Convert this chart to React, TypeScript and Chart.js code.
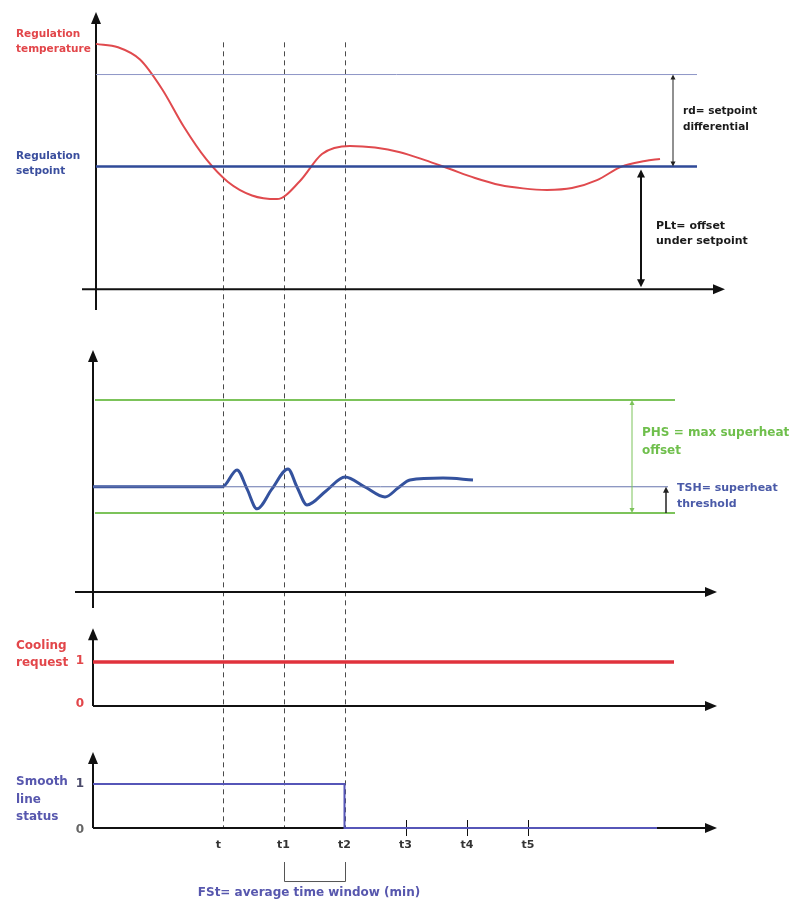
import React, { useEffect, useRef } from 'react';
import { Chart, registerables } from 'chart.js';

Chart.register(...registerables);

// Time axis (shared by all four panels)
const TIME_MARKS = [25.9, 38.1, 50.3, 62.5, 74.8, 87.0];
const TIME_LABELS = ['t', 't1', 't2', 't3', 't4', 't5'];

// Panel 1: regulation temperature
const TEMP_TIME = [0.6, 5, 9.4, 13.8, 18.2, 22.6, 27, 31.8, 36.8, 41.4, 45.8, 51.4, 56.4, 61.4, 66.4, 71.4, 76.4, 81.4, 86, 90.8, 95.8, 100.8, 105.6, 110.4, 113.4];
const TEMP_VALUES = [8.0, 7.89, 7.49, 6.53, 5.29, 4.25, 3.5, 3.06, 2.94, 3.53, 4.41, 4.67, 4.62, 4.47, 4.21, 3.92, 3.63, 3.4, 3.29, 3.24, 3.3, 3.56, 3.99, 4.18, 4.25];
const SETPOINT = 4;
const SETPOINT_DIFF = 3; // rd
const REF_LINE_SPAN = [0.6, 120.8];

// Panel 2: superheat
const SH_TIME = [0, 25.9, 28.8, 30.8, 32.8, 35.8, 39.0, 40.8, 42.8, 46.6, 50.4, 54.4, 58.4, 61.0, 63.4, 70.0, 76.0];
const SH_VALUES = [4.0, 4.0, 4.64, 3.92, 3.16, 3.92, 4.68, 3.99, 3.31, 3.84, 4.37, 3.99, 3.61, 3.95, 4.26, 4.33, 4.26];
const SH_BAND_LOW = 3;
const SH_BAND_HIGH = 7.3;
const SH_THRESHOLD = 4;
const SH_BAND_SPAN = [0.4, 116.4];
const SH_THRESHOLD_SPAN = [0, 115];

// Panel 3: cooling request
const COOLING_TIME = [0, 116.2];
const COOLING_VALUES = [1, 1];

// Panel 4: smooth line status
const SMOOTH_TIME = [0, 50.3, 50.3, 112.8];
const SMOOTH_VALUES = [1, 1, 0, 0];

const FONT = '"DejaVu Sans", sans-serif';
const RED_TEXT = '#e2464a';
const BLUE_TEXT = '#3a4e9e';
const VIOLET_TEXT = '#5757ae';
const GREEN_TEXT = '#6fbf4c';

const pts = (xs: number[], ys: number[]) => xs.map((x, i) => ({ x, y: ys[i] }));
const flat = (span: number[], v: number) => [{ x: span[0], y: v }, { x: span[1], y: v }];

function head(ctx: CanvasRenderingContext2D, x: number, y: number, dx: number, dy: number, len: number, half: number) {
  ctx.beginPath();
  ctx.moveTo(x, y);
  ctx.lineTo(x - dx * len - dy * half, y - dy * len + dx * half);
  ctx.lineTo(x - dx * len + dy * half, y - dy * len - dx * half);
  ctx.closePath();
  ctx.fill();
}

function line(ctx: CanvasRenderingContext2D, x1: number, y1: number, x2: number, y2: number) {
  ctx.beginPath();
  ctx.moveTo(x1, y1);
  ctx.lineTo(x2, y2);
  ctx.stroke();
}

function vArrow(ctx: CanvasRenderingContext2D, x: number, yTop: number, yBot: number, color: string, width: number, len: number, half: number, top: boolean, bottom: boolean) {
  ctx.save();
  ctx.strokeStyle = color;
  ctx.fillStyle = color;
  ctx.lineWidth = width;
  line(ctx, x, yTop + (top ? len - 1 : 0), x, yBot - (bottom ? len - 1 : 0));
  if (top) head(ctx, x, yTop, 0, -1, len, half);
  if (bottom) head(ctx, x, yBot, 0, 1, len, half);
  ctx.restore();
}

function text(ctx: CanvasRenderingContext2D, lines: string[], x: number, y: number, step: number, color: string, size = 11, align: CanvasTextAlign = 'left') {
  ctx.save();
  ctx.fillStyle = color;
  ctx.font = `bold ${size}px ${FONT}`;
  ctx.textAlign = align;
  ctx.textBaseline = 'middle';
  lines.forEach((s, i) => ctx.fillText(s, x, y + i * step));
  ctx.restore();
}

const diagramPlugin = {
  id: 'diagram',
  beforeDatasetsDraw(chart: any) {
    const { ctx } = chart;
    const { x, y1, y2, y3, y4 } = chart.scales;
    const px = (v: number) => x.getPixelForValue(v);

    // dashed time markers through all panels
    ctx.save();
    ctx.strokeStyle = '#4a4a4a';
    ctx.lineWidth = 1;
    ctx.setLineDash([5, 4]);
    TIME_MARKS.slice(0, 3).forEach((t) => {
      line(ctx, Math.round(px(t)) + 0.5, y1.getPixelForValue(8.05), Math.round(px(t)) + 0.5, y4.getPixelForValue(0));
    });
    ctx.restore();

    // axes with arrow heads
    ctx.save();
    ctx.strokeStyle = '#111';
    ctx.fillStyle = '#111';
    ctx.lineWidth = 2;
    const axes = [
      { ys: y1, ax: 0.6, top: 9.04, bottom: -0.67, left: -2.2, right: 126.4 },
      { ys: y2, ax: 0, top: 9.2, bottom: -0.61, left: -3.6, right: 124.8 },
      { ys: y3, ax: 0, top: 1.77, bottom: 0, left: 0, right: 124.8 },
      { ys: y4, ax: 0, top: 1.73, bottom: 0, left: 0, right: 124.8 },
    ];
    axes.forEach((a) => {
      const ax = px(a.ax);
      const yTop = a.ys.getPixelForValue(a.top);
      const y0 = a.ys.getPixelForValue(0);
      line(ctx, ax, yTop + 10, ax, a.ys.getPixelForValue(a.bottom));
      head(ctx, ax, yTop, 0, -1, 12, 5);
      line(ctx, px(a.left), y0, px(a.right) - 10, y0);
      head(ctx, px(a.right), y0, 1, 0, 12, 5);
    });
    // small ticks on the time axis
    const yb = y4.getPixelForValue(0);
    ctx.lineWidth = 1;
    TIME_MARKS.slice(3).forEach((t) => line(ctx, Math.round(px(t)) + 0.5, yb - 8, Math.round(px(t)) + 0.5, yb + 8));
    ctx.restore();
  },
  afterDatasetsDraw(chart: any) {
    const { ctx } = chart;
    const { x, y1, y2, y3, y4 } = chart.scales;
    const px = (v: number) => x.getPixelForValue(v);

    // panel 1 labels and dimension arrows
    const ySet = y1.getPixelForValue(SETPOINT);
    const yDiff = y1.getPixelForValue(SETPOINT + SETPOINT_DIFF);
    const yBase1 = y1.getPixelForValue(0);
    text(ctx, ['Regulation', 'temperature'], 16, y1.getPixelForValue(TEMP_VALUES[0]) - 10, 15, RED_TEXT, 10.5);
    text(ctx, ['Regulation', 'setpoint'], 16, ySet - 10, 15, BLUE_TEXT, 10.5);
    const xRd = px(116);
    vArrow(ctx, xRd, yDiff, ySet, '#222', 1, 5, 2.5, true, true);
    text(ctx, ['rd= setpoint', 'differential'], xRd + 10, (yDiff + ySet) / 2 - 9, 16, '#1a1a1a', 10.5);
    const xPl = px(109.6);
    vArrow(ctx, xPl, ySet + 3, yBase1 - 2, '#111', 2, 8, 4, true, true);
    text(ctx, ['PLt= offset', 'under setpoint'], xPl + 15, 226, 15, '#1a1a1a', 11);

    // panel 2 labels
    const yHi = y2.getPixelForValue(SH_BAND_HIGH);
    const yLo = y2.getPixelForValue(SH_BAND_LOW);
    const yTh = y2.getPixelForValue(SH_THRESHOLD);
    const xPhs = px(107.8);
    vArrow(ctx, xPhs, yHi, yLo, '#7cc35a', 1, 5, 2.5, true, true);
    text(ctx, ['PHS = max superheat', 'offset'], xPhs + 10, yHi + 33, 18, GREEN_TEXT, 12);
    const xTsh = px(114.6);
    vArrow(ctx, xTsh, yTh, yLo, '#222', 1.5, 6, 3, true, false);
    text(ctx, ['TSH= superheat', 'threshold'], xTsh + 11, yTh + 1, 16, '#4a5aa8', 11);

    // panel 3 labels
    const c1 = y3.getPixelForValue(1);
    const c0 = y3.getPixelForValue(0);
    text(ctx, ['Cooling', 'request'], 16, c1 - 16, 17, RED_TEXT, 12);
    text(ctx, ['1'], 80, c1 - 1, 0, RED_TEXT, 12, 'center');
    text(ctx, ['0'], 80, c0 - 2, 0, RED_TEXT, 12, 'center');

    // panel 4 labels
    const s1 = y4.getPixelForValue(1);
    const s0 = y4.getPixelForValue(0);
    text(ctx, ['Smooth', 'line', 'status'], 16, s1 - 2, 17.5, VIOLET_TEXT, 12);
    text(ctx, ['1'], 80, s1, 0, '#4a4a6a', 12, 'center');
    text(ctx, ['0'], 80, s0 + 2, 0, '#666', 12, 'center');

    // time labels
    TIME_MARKS.forEach((t, i) => text(ctx, [TIME_LABELS[i]], px(t) - (i === 0 ? 4 : 0), s0 + 17, 0, '#333', 11, 'center'));

    // averaging window bracket
    const b1 = Math.round(px(TIME_MARKS[1])) + 0.5;
    const b2 = Math.round(px(TIME_MARKS[2])) + 0.5;
    ctx.save();
    ctx.strokeStyle = '#555';
    ctx.lineWidth = 1;
    ctx.beginPath();
    ctx.moveTo(b1, s0 + 34);
    ctx.lineTo(b1, s0 + 53.5);
    ctx.lineTo(b2, s0 + 53.5);
    ctx.lineTo(b2, s0 + 34);
    ctx.stroke();
    ctx.restore();
    text(ctx, ['FSt= average time window (min)'], (b1 + b2) / 2 - 6, s0 + 65, 0, VIOLET_TEXT, 12, 'center');
  },
};

export default function App() {
  const ref = useRef<HTMLCanvasElement>(null);

  useEffect(() => {
    const canvas = ref.current;
    if (!canvas) return;
    const base = { pointRadius: 0, fill: false, clip: false as any };
    const chart = new Chart(canvas, {
      type: 'line',
      data: {
        datasets: [
          { ...base, data: flat(REF_LINE_SPAN, SETPOINT + SETPOINT_DIFF), yAxisID: 'y1', borderColor: '#8d95c6', borderWidth: 1 },
          { ...base, data: flat(REF_LINE_SPAN, SETPOINT), yAxisID: 'y1', borderColor: '#2f4a98', borderWidth: 2.5 },
          { ...base, data: pts(TEMP_TIME, TEMP_VALUES), yAxisID: 'y1', borderColor: '#e04a4e', borderWidth: 2, cubicInterpolationMode: 'monotone' },
          { ...base, data: flat(SH_BAND_SPAN, SH_BAND_HIGH), yAxisID: 'y2', borderColor: '#7cc35a', borderWidth: 2 },
          { ...base, data: flat(SH_BAND_SPAN, SH_BAND_LOW), yAxisID: 'y2', borderColor: '#7cc35a', borderWidth: 2 },
          { ...base, data: flat(SH_THRESHOLD_SPAN, SH_THRESHOLD), yAxisID: 'y2', borderColor: '#6674ad', borderWidth: 1 },
          { ...base, data: pts(SH_TIME, SH_VALUES), yAxisID: 'y2', borderColor: '#34529e', borderWidth: 3, cubicInterpolationMode: 'monotone' },
          { ...base, data: pts(COOLING_TIME, COOLING_VALUES), yAxisID: 'y3', borderColor: '#e0323c', borderWidth: 3.5 },
          { ...base, data: pts(SMOOTH_TIME, SMOOTH_VALUES), yAxisID: 'y4', borderColor: '#5656b8', borderWidth: 2 },
        ],
      },
      options: {
        responsive: false,
        animation: false,
        devicePixelRatio: 1,
        events: [],
        layout: { padding: { left: 93, right: 75, top: 0, bottom: 0 } },
        plugins: { legend: { display: false }, tooltip: { enabled: false } },
        scales: {
          x: { type: 'linear', min: 0, max: 125, display: false },
          y1: { type: 'linear', position: 'left', stack: 'panels', stackWeight: 320, weight: 4, min: -1, max: 9.43, display: false },
          y2: { type: 'linear', position: 'left', stack: 'panels', stackWeight: 300, weight: 3, min: -1.065, max: 10.34, display: false },
          y3: { type: 'linear', position: 'left', stack: 'panels', stackWeight: 110, weight: 2, min: -0.545, max: 1.955, display: false },
          y4: { type: 'linear', position: 'left', stack: 'panels', stackWeight: 171, weight: 1, min: -1.66, max: 2.23, display: false },
        },
      },
      plugins: [diagramPlugin],
    } as any);
    return () => chart.destroy();
  }, []);

  return (
    <div style={{ position: 'fixed', left: 0, top: 0, width: 793, height: 901, background: '#fff' }}>
      <canvas ref={ref} width={793} height={901} style={{ display: 'block' }} />
    </div>
  );
}
